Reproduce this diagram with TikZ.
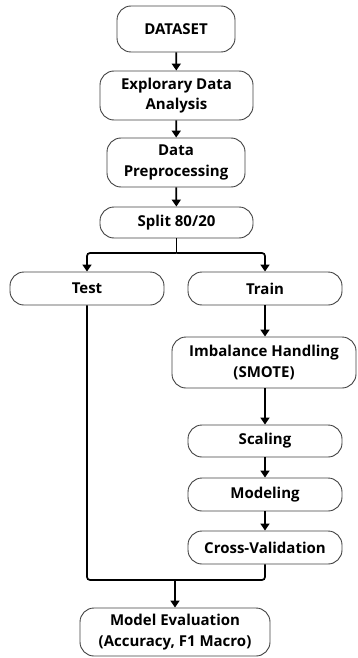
\documentclass[tikz,border=0pt]{standalone}
\usepackage{fontspec}
\setmainfont{Open Sans}
\usetikzlibrary{positioning,calc,arrows.meta}

\tikzset{
  stage/.style={draw=black!75, line width=0.9pt, rounded corners=14pt, align=center,
    font=\fontsize{15}{20.5}\selectfont\bfseries, inner sep=0pt},
  flow/.style={line width=1.7pt, -{Triangle[length=7pt,width=9pt]}},
  link/.style={line width=1.7pt, rounded corners=3pt}
}

\begin{document}
\begin{tikzpicture}[x=1pt, y=-1pt]
  \useasboundingbox (0,0) rectangle (357,658);

  % Stages
  \node[stage, minimum width=118pt, minimum height=46pt] (dataset) at (176,29) {DATASET};
  \node[stage, minimum width=153pt, minimum height=49pt] (eda) at (176.5,95.5) {Explorary Data\\Analysis};
  \node[stage, minimum width=138pt, minimum height=49pt] (prep) at (176,162.5) {Data\\Preprocessing};
  \node[stage, minimum width=153pt, minimum height=31pt] (split) at (176.5,222.5) {Split 80/20};
  \node[stage, minimum width=154pt, minimum height=33pt] (test) at (87,288.5) {Test};
  \node[stage, minimum width=154pt, minimum height=33pt] (train) at (265,288.5) {Train};
  \node[stage, minimum width=184pt, minimum height=51pt] (smote) at (264,362.5) {Imbalance Handling\\(SMOTE)};
  \node[stage, minimum width=154pt, minimum height=32pt] (scaling) at (265,441) {Scaling};
  \node[stage, minimum width=154pt, minimum height=33pt] (modeling) at (265,494.5) {Modeling};
  \node[stage, minimum width=154pt, minimum height=33pt] (cv) at (265,547.5) {Cross-Validation};
  \node[stage, minimum width=190pt, minimum height=48pt] (eval) at (175,632) {Model Evaluation\\(Accuracy, F1 Macro)};

  \coordinate (fork) at (176.5,253);
  \coordinate (merge) at (175,580);

  % Connections
  \draw[flow] (dataset) -- (eda);
  \draw[flow] (eda) -- (prep);
  \draw[flow] (prep) -- (split);
  \draw[link] (split.south) -- (fork);
  \draw[flow, rounded corners=3pt] (fork) -| (test.north);
  \draw[flow, rounded corners=3pt] (fork) -| (train.north);
  \draw[flow] (train) -- (smote.north -| train);
  \draw[flow] (smote.south -| scaling) -- (scaling);
  \draw[flow] (scaling) -- (modeling);
  \draw[flow] (modeling) -- (cv);
  \draw[link] (test.south) |- (merge);
  \draw[link] (cv.south) |- (merge);
  \draw[flow] (merge) -- (eval);
\end{tikzpicture}
\end{document}
